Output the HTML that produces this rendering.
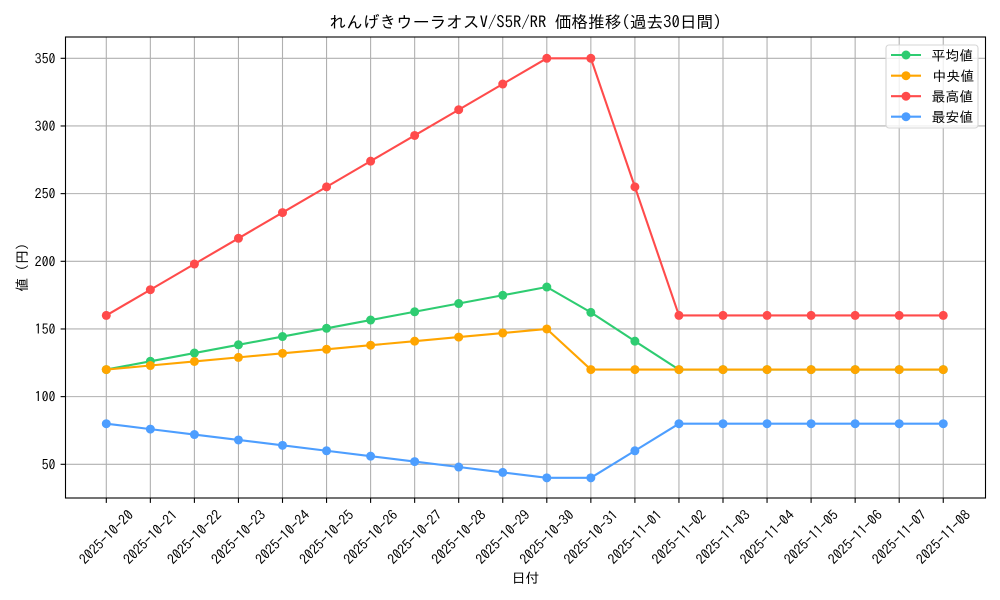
<!DOCTYPE html>
<html><head><meta charset="utf-8"><style>
html,body{margin:0;padding:0;background:#fff;}
svg{display:block;}
text{font-family:"IPAGothic","Liberation Sans","Noto Sans CJK JP",sans-serif;fill:#000;}
</style></head><body>
<svg width="1000" height="600" viewBox="0 0 1000 600" xmlns="http://www.w3.org/2000/svg">
<rect width="1000" height="600" fill="#fff"/>
<g stroke="#b0b0b0" stroke-width="1.1">
<line x1="106.3" y1="37" x2="106.3" y2="498"/>
<line x1="150.35" y1="37" x2="150.35" y2="498"/>
<line x1="194.4" y1="37" x2="194.4" y2="498"/>
<line x1="238.45" y1="37" x2="238.45" y2="498"/>
<line x1="282.5" y1="37" x2="282.5" y2="498"/>
<line x1="326.55" y1="37" x2="326.55" y2="498"/>
<line x1="370.6" y1="37" x2="370.6" y2="498"/>
<line x1="414.65" y1="37" x2="414.65" y2="498"/>
<line x1="458.7" y1="37" x2="458.7" y2="498"/>
<line x1="502.75" y1="37" x2="502.75" y2="498"/>
<line x1="546.8" y1="37" x2="546.8" y2="498"/>
<line x1="590.85" y1="37" x2="590.85" y2="498"/>
<line x1="634.9" y1="37" x2="634.9" y2="498"/>
<line x1="678.95" y1="37" x2="678.95" y2="498"/>
<line x1="723.0" y1="37" x2="723.0" y2="498"/>
<line x1="767.05" y1="37" x2="767.05" y2="498"/>
<line x1="811.1" y1="37" x2="811.1" y2="498"/>
<line x1="855.15" y1="37" x2="855.15" y2="498"/>
<line x1="899.2" y1="37" x2="899.2" y2="498"/>
<line x1="943.25" y1="37" x2="943.25" y2="498"/>
<line x1="65.5" y1="464.3" x2="985.5" y2="464.3"/>
<line x1="65.5" y1="396.63" x2="985.5" y2="396.63"/>
<line x1="65.5" y1="328.97" x2="985.5" y2="328.97"/>
<line x1="65.5" y1="261.3" x2="985.5" y2="261.3"/>
<line x1="65.5" y1="193.63" x2="985.5" y2="193.63"/>
<line x1="65.5" y1="125.97" x2="985.5" y2="125.97"/>
<line x1="65.5" y1="58.3" x2="985.5" y2="58.3"/>
</g>

<!-- avg -->
<g stroke="#2ecc71" fill="#2ecc71">
<polyline fill="none" stroke-width="2.1" stroke-linejoin="round" points="106.3,369.57 150.35,361.31 194.4,353.06 238.45,344.8 282.5,336.55 326.55,328.29 370.6,320.04 414.65,311.78 458.7,303.53 502.75,295.27 546.8,287.02 590.85,312.39 634.9,341.15 678.95,369.57 723.0,369.57 767.05,369.57 811.1,369.57 855.15,369.57 899.2,369.57 943.25,369.57"/>
<g stroke="none">
<circle cx="106.3" cy="369.57" r="4.5"/><circle cx="150.35" cy="361.31" r="4.5"/><circle cx="194.4" cy="353.06" r="4.5"/><circle cx="238.45" cy="344.8" r="4.5"/><circle cx="282.5" cy="336.55" r="4.5"/><circle cx="326.55" cy="328.29" r="4.5"/><circle cx="370.6" cy="320.04" r="4.5"/><circle cx="414.65" cy="311.78" r="4.5"/><circle cx="458.7" cy="303.53" r="4.5"/><circle cx="502.75" cy="295.27" r="4.5"/><circle cx="546.8" cy="287.02" r="4.5"/><circle cx="590.85" cy="312.39" r="4.5"/><circle cx="634.9" cy="341.15" r="4.5"/><circle cx="678.95" cy="369.57" r="4.5"/><circle cx="723.0" cy="369.57" r="4.5"/><circle cx="767.05" cy="369.57" r="4.5"/><circle cx="811.1" cy="369.57" r="4.5"/><circle cx="855.15" cy="369.57" r="4.5"/><circle cx="899.2" cy="369.57" r="4.5"/><circle cx="943.25" cy="369.57" r="4.5"/>
</g></g>

<!-- median -->
<g stroke="#ffa500" fill="#ffa500">
<polyline fill="none" stroke-width="2.1" stroke-linejoin="round" points="106.3,369.57 150.35,365.51 194.4,361.45 238.45,357.39 282.5,353.33 326.55,349.27 370.6,345.21 414.65,341.15 458.7,337.09 502.75,333.03 546.8,328.97 590.85,369.57 634.9,369.57 678.95,369.57 723.0,369.57 767.05,369.57 811.1,369.57 855.15,369.57 899.2,369.57 943.25,369.57"/>
<g stroke="none">
<circle cx="106.3" cy="369.57" r="4.5"/><circle cx="150.35" cy="365.51" r="4.5"/><circle cx="194.4" cy="361.45" r="4.5"/><circle cx="238.45" cy="357.39" r="4.5"/><circle cx="282.5" cy="353.33" r="4.5"/><circle cx="326.55" cy="349.27" r="4.5"/><circle cx="370.6" cy="345.21" r="4.5"/><circle cx="414.65" cy="341.15" r="4.5"/><circle cx="458.7" cy="337.09" r="4.5"/><circle cx="502.75" cy="333.03" r="4.5"/><circle cx="546.8" cy="328.97" r="4.5"/><circle cx="590.85" cy="369.57" r="4.5"/><circle cx="634.9" cy="369.57" r="4.5"/><circle cx="678.95" cy="369.57" r="4.5"/><circle cx="723.0" cy="369.57" r="4.5"/><circle cx="767.05" cy="369.57" r="4.5"/><circle cx="811.1" cy="369.57" r="4.5"/><circle cx="855.15" cy="369.57" r="4.5"/><circle cx="899.2" cy="369.57" r="4.5"/><circle cx="943.25" cy="369.57" r="4.5"/>
</g></g>

<!-- max -->
<g stroke="#ff4b4b" fill="#ff4b4b">
<polyline fill="none" stroke-width="2.1" stroke-linejoin="round" points="106.3,315.43 150.35,289.72 194.4,264.01 238.45,238.29 282.5,212.58 326.55,186.87 370.6,161.15 414.65,135.44 458.7,109.73 502.75,84.02 546.8,58.3 590.85,58.3 634.9,186.87 678.95,315.43 723.0,315.43 767.05,315.43 811.1,315.43 855.15,315.43 899.2,315.43 943.25,315.43"/>
<g stroke="none">
<circle cx="106.3" cy="315.43" r="4.5"/><circle cx="150.35" cy="289.72" r="4.5"/><circle cx="194.4" cy="264.01" r="4.5"/><circle cx="238.45" cy="238.29" r="4.5"/><circle cx="282.5" cy="212.58" r="4.5"/><circle cx="326.55" cy="186.87" r="4.5"/><circle cx="370.6" cy="161.15" r="4.5"/><circle cx="414.65" cy="135.44" r="4.5"/><circle cx="458.7" cy="109.73" r="4.5"/><circle cx="502.75" cy="84.02" r="4.5"/><circle cx="546.8" cy="58.3" r="4.5"/><circle cx="590.85" cy="58.3" r="4.5"/><circle cx="634.9" cy="186.87" r="4.5"/><circle cx="678.95" cy="315.43" r="4.5"/><circle cx="723.0" cy="315.43" r="4.5"/><circle cx="767.05" cy="315.43" r="4.5"/><circle cx="811.1" cy="315.43" r="4.5"/><circle cx="855.15" cy="315.43" r="4.5"/><circle cx="899.2" cy="315.43" r="4.5"/><circle cx="943.25" cy="315.43" r="4.5"/>
</g></g>

<!-- min -->
<g stroke="#4d9eff" fill="#4d9eff">
<polyline fill="none" stroke-width="2.1" stroke-linejoin="round" points="106.3,423.7 150.35,429.11 194.4,434.53 238.45,439.94 282.5,445.35 326.55,450.77 370.6,456.18 414.65,461.59 458.7,467.01 502.75,472.42 546.8,477.83 590.85,477.83 634.9,450.77 678.95,423.7 723.0,423.7 767.05,423.7 811.1,423.7 855.15,423.7 899.2,423.7 943.25,423.7"/>
<g stroke="none">
<circle cx="106.3" cy="423.7" r="4.5"/><circle cx="150.35" cy="429.11" r="4.5"/><circle cx="194.4" cy="434.53" r="4.5"/><circle cx="238.45" cy="439.94" r="4.5"/><circle cx="282.5" cy="445.35" r="4.5"/><circle cx="326.55" cy="450.77" r="4.5"/><circle cx="370.6" cy="456.18" r="4.5"/><circle cx="414.65" cy="461.59" r="4.5"/><circle cx="458.7" cy="467.01" r="4.5"/><circle cx="502.75" cy="472.42" r="4.5"/><circle cx="546.8" cy="477.83" r="4.5"/><circle cx="590.85" cy="477.83" r="4.5"/><circle cx="634.9" cy="450.77" r="4.5"/><circle cx="678.95" cy="423.7" r="4.5"/><circle cx="723.0" cy="423.7" r="4.5"/><circle cx="767.05" cy="423.7" r="4.5"/><circle cx="811.1" cy="423.7" r="4.5"/><circle cx="855.15" cy="423.7" r="4.5"/><circle cx="899.2" cy="423.7" r="4.5"/><circle cx="943.25" cy="423.7" r="4.5"/>
</g></g>

<!-- spines -->
<rect x="65.5" y="37" width="920" height="461" fill="none" stroke="#000" stroke-width="1.1"/>

<!-- ticks -->
<g stroke="#000" stroke-width="1.1">
<line x1="60.6" y1="464.3" x2="65.5" y2="464.3"/>
<line x1="60.6" y1="396.63" x2="65.5" y2="396.63"/>
<line x1="60.6" y1="328.97" x2="65.5" y2="328.97"/>
<line x1="60.6" y1="261.3" x2="65.5" y2="261.3"/>
<line x1="60.6" y1="193.63" x2="65.5" y2="193.63"/>
<line x1="60.6" y1="125.97" x2="65.5" y2="125.97"/>
<line x1="60.6" y1="58.3" x2="65.5" y2="58.3"/>
<line x1="106.3" y1="498" x2="106.3" y2="502.9"/>
<line x1="150.35" y1="498" x2="150.35" y2="502.9"/>
<line x1="194.4" y1="498" x2="194.4" y2="502.9"/>
<line x1="238.45" y1="498" x2="238.45" y2="502.9"/>
<line x1="282.5" y1="498" x2="282.5" y2="502.9"/>
<line x1="326.55" y1="498" x2="326.55" y2="502.9"/>
<line x1="370.6" y1="498" x2="370.6" y2="502.9"/>
<line x1="414.65" y1="498" x2="414.65" y2="502.9"/>
<line x1="458.7" y1="498" x2="458.7" y2="502.9"/>
<line x1="502.75" y1="498" x2="502.75" y2="502.9"/>
<line x1="546.8" y1="498" x2="546.8" y2="502.9"/>
<line x1="590.85" y1="498" x2="590.85" y2="502.9"/>
<line x1="634.9" y1="498" x2="634.9" y2="502.9"/>
<line x1="678.95" y1="498" x2="678.95" y2="502.9"/>
<line x1="723.0" y1="498" x2="723.0" y2="502.9"/>
<line x1="767.05" y1="498" x2="767.05" y2="502.9"/>
<line x1="811.1" y1="498" x2="811.1" y2="502.9"/>
<line x1="855.15" y1="498" x2="855.15" y2="502.9"/>
<line x1="899.2" y1="498" x2="899.2" y2="502.9"/>
<line x1="943.25" y1="498" x2="943.25" y2="502.9"/>
</g>

<!-- y tick labels -->
<g font-size="13.9" text-anchor="end" dominant-baseline="central">
<text x="55.5" y="464.3">50</text>
<text x="55.5" y="396.63">100</text>
<text x="55.5" y="328.97">150</text>
<text x="55.5" y="261.3">200</text>
<text x="55.5" y="193.63">250</text>
<text x="55.5" y="125.97">300</text>
<text x="55.5" y="58.3">350</text>
</g>

<!-- x tick labels -->
<g font-size="13.9" text-anchor="middle" dominant-baseline="central">
<text x="106.3" y="537" transform="rotate(-45 106.3 537)">2025-10-20</text>
<text x="150.35" y="537" transform="rotate(-45 150.35 537)">2025-10-21</text>
<text x="194.4" y="537" transform="rotate(-45 194.4 537)">2025-10-22</text>
<text x="238.45" y="537" transform="rotate(-45 238.45 537)">2025-10-23</text>
<text x="282.5" y="537" transform="rotate(-45 282.5 537)">2025-10-24</text>
<text x="326.55" y="537" transform="rotate(-45 326.55 537)">2025-10-25</text>
<text x="370.6" y="537" transform="rotate(-45 370.6 537)">2025-10-26</text>
<text x="414.65" y="537" transform="rotate(-45 414.65 537)">2025-10-27</text>
<text x="458.7" y="537" transform="rotate(-45 458.7 537)">2025-10-28</text>
<text x="502.75" y="537" transform="rotate(-45 502.75 537)">2025-10-29</text>
<text x="546.8" y="537" transform="rotate(-45 546.8 537)">2025-10-30</text>
<text x="590.85" y="537" transform="rotate(-45 590.85 537)">2025-10-31</text>
<text x="634.9" y="537" transform="rotate(-45 634.9 537)">2025-11-01</text>
<text x="678.95" y="537" transform="rotate(-45 678.95 537)">2025-11-02</text>
<text x="723.0" y="537" transform="rotate(-45 723.0 537)">2025-11-03</text>
<text x="767.05" y="537" transform="rotate(-45 767.05 537)">2025-11-04</text>
<text x="811.1" y="537" transform="rotate(-45 811.1 537)">2025-11-05</text>
<text x="855.15" y="537" transform="rotate(-45 855.15 537)">2025-11-06</text>
<text x="899.2" y="537" transform="rotate(-45 899.2 537)">2025-11-07</text>
<text x="943.25" y="537" transform="rotate(-45 943.25 537)">2025-11-08</text>
</g>

<!-- axis labels and title -->
<text x="525.5" y="578" font-size="13.9" text-anchor="middle" dominant-baseline="central">日付</text>
<text x="22" y="267.5" font-size="13.9" text-anchor="middle" dominant-baseline="central" transform="rotate(-90 22 267.5)">値 (円)</text>
<text x="525.5" y="22.5" font-size="16.7" text-anchor="middle" dominant-baseline="central">れんげきウーラオスV/S5R/RR 価格推移(過去30日間)</text>

<!-- legend -->
<rect x="886" y="45" width="92" height="83" rx="3" ry="3" fill="#fff" fill-opacity="0.8" stroke="#d6d6d6" stroke-width="1.1"/>
<g stroke-width="2.1">
<line x1="891" y1="55" x2="921" y2="55" stroke="#2ecc71"/>
<circle cx="906" cy="55" r="4.5" fill="#2ecc71"/>
<line x1="891" y1="75.7" x2="921" y2="75.7" stroke="#ffa500"/>
<circle cx="906" cy="75.7" r="4.5" fill="#ffa500"/>
<line x1="891" y1="96.2" x2="921" y2="96.2" stroke="#ff4b4b"/>
<circle cx="906" cy="96.2" r="4.5" fill="#ff4b4b"/>
<line x1="891" y1="116.7" x2="921" y2="116.7" stroke="#4d9eff"/>
<circle cx="906" cy="116.7" r="4.5" fill="#4d9eff"/>
</g>
<g font-size="13.9" dominant-baseline="central">
<text x="931.5" y="55.5">平均値</text>
<text x="932.5" y="76.2">中央値</text>
<text x="931.5" y="96.7">最高値</text>
<text x="931.5" y="117.2">最安値</text>
</g>
</svg>
</body></html>
